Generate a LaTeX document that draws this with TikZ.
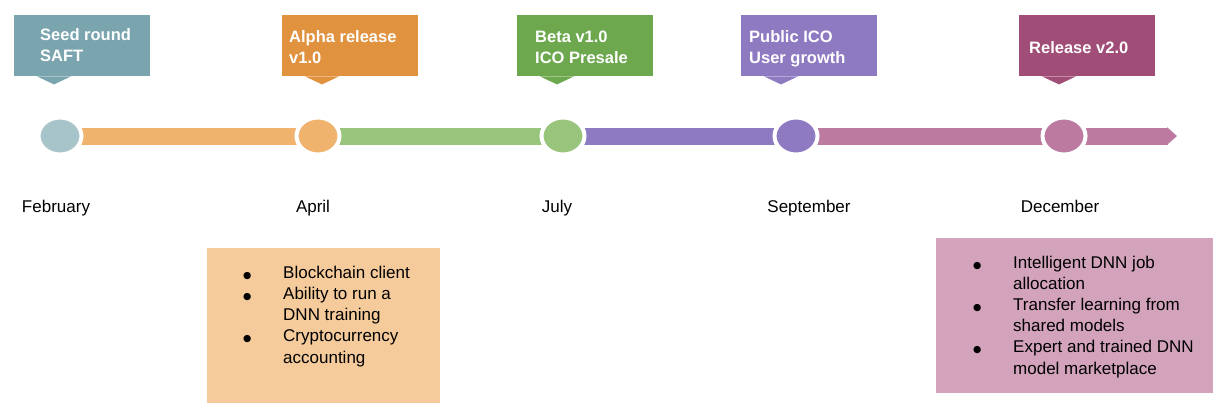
\documentclass[tikz,border=0pt]{standalone}
\usepackage{fontspec}
\setmainfont{Liberation Sans}
\newfontfamily\symfont{DejaVu Sans}
\usetikzlibrary{arrows.meta,shapes.geometric,backgrounds}

% milestone palette: flag colour and matching track colour
\definecolor{seedflag}{HTML}{7AA4AE}
\definecolor{seedtrack}{HTML}{A8C4CB}
\definecolor{alphaflag}{HTML}{E0923E}
\definecolor{alphatrack}{HTML}{F0B36E}
\definecolor{betaflag}{HTML}{6DA84E}
\definecolor{betatrack}{HTML}{98C47B}
\definecolor{icoflag}{HTML}{8E7AC1}
\definecolor{icotrack}{HTML}{8E7AC1}
\definecolor{relflag}{HTML}{A04E77}
\definecolor{reltrack}{HTML}{BC7AA0}
\definecolor{alphanote}{HTML}{F5CB9B}
\definecolor{relnote}{HTML}{D3A3BB}

% list bullet and hanging indent for wrapped lines
\newcommand{\itm}{\makebox[40pt][l]{{\symfont\fontsize{9.5}{0}\selectfont ●}}}
\newcommand{\cont}{\hspace*{40pt}}

\tikzset{
  flag/.style={rectangle, fill=#1, minimum width=136, minimum height=61,
    inner sep=0, anchor=north west},
  flagtext/.style={anchor=base west, inner sep=0, align=left, text=white,
    font=\fontsize{16.5}{21}\selectfont\bfseries},
  stone/.style={ellipse, fill=#1, draw=white, line width=4,
    minimum width=43, minimum height=37, inner sep=0},
  track/.style={draw=#1, line width=17},
  month/.style={anchor=base, inner sep=0, font=\fontsize{17}{21}\selectfont},
  note/.style={rectangle, fill=#1, inner sep=0, anchor=north west},
  notetext/.style={anchor=base west, inner sep=0, align=left,
    font=\fontsize{17}{21.1}\selectfont},
}

\begin{document}
\begin{tikzpicture}[x=1pt, y=-1pt]
\useasboundingbox (0,0) rectangle (1225,418);

% flags with their pointers
\node[flag=seedflag]  (fseed)  at (14,15)   {};
\node[flag=alphaflag] (falpha) at (282,15)  {};
\node[flag=betaflag]  (fbeta)  at (517,15)  {};
\node[flag=icoflag]   (fico)   at (741,15)  {};
\node[flag=relflag]   (frel)   at (1019,15) {};
\foreach \f/\c in {fseed/seedflag, falpha/alphaflag, fbeta/betaflag,
                   fico/icoflag, frel/relflag}
  \fill[\c] (\f.south west) ++(23,0) -- ++(17,8) -- ++(17,-8) -- cycle;

% flag captions, placed by the baseline of their last line
\node[flagtext] (tseed)  at (40,61)    {Seed round\\SAFT};
\node[flagtext] (talpha) at (289,63)   {Alpha release\\v1.0};
\node[flagtext] (tbeta)  at (535,63)   {Beta v1.0\\ICO Presale};
\node[flagtext] (tico)   at (749,63)   {Public ICO\\User growth};
\node[flagtext] (trel)   at (1029,53)  {Release v2.0};

% milestones on the track
\node[stone=seedtrack]  (sseed)  at (60,136)   {};
\node[stone=alphatrack] (salpha) at (318,136)  {};
\node[stone=betatrack]  (sbeta)  at (563,136)  {};
\node[stone=icotrack]   (sico)   at (796,136)  {};
\node[stone=reltrack]   (srel)   at (1064,136) {};
\coordinate (tip) at (1177,136);

\begin{scope}[on background layer]
  \draw[track=alphatrack] (sseed.center) -- (salpha.center);
  \draw[track=betatrack]  (salpha.center) -- (sbeta.center);
  \draw[track=icotrack]   (sbeta.center) -- (sico.center);
  \draw[track=reltrack]   (sico.center) -- (srel.center);
  \draw[track=reltrack, -{Triangle[length=10pt, width=17pt]}]
    (srel.center) -- (tip);
\end{scope}

% month labels
\node[month] (mfeb) at (56,212)   {February};
\node[month] (mapr) at (313,212)  {April};
\node[month] (mjul) at (557,212)  {July};
\node[month] (msep) at (809,212)  {September};
\node[month] (mdec) at (1060,212) {December};

% feature notes
\node[note=alphanote, minimum width=233, minimum height=155] (nalpha) at (207,248) {};
\node[notetext] (lalpha) at (243,363) {%
  \itm Blockchain client\\
  \itm Ability to run a\\
  \cont DNN training\\
  \itm Cryptocurrency\\
  \cont accounting};

\node[note=relnote, minimum width=277, minimum height=155] (nrel) at (936,238) {};
\node[notetext] (lrel) at (973,374) {%
  \itm Intelligent DNN job\\
  \cont allocation\\
  \itm Transfer learning from\\
  \cont shared models\\
  \itm Expert and trained DNN\\
  \cont model marketplace};
\end{tikzpicture}
\end{document}
